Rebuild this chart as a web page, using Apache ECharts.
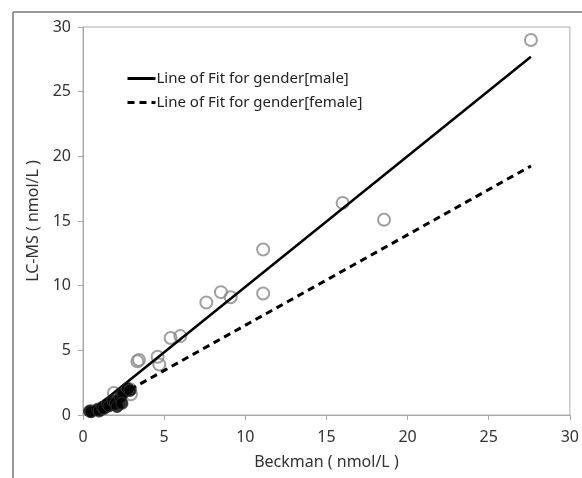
<!DOCTYPE html>
<html>
<head>
<meta charset="utf-8">
<script src="https://cdn.jsdelivr.net/npm/echarts@6/dist/echarts.min.js"></script>
<style>
  html, body { margin: 0; padding: 0; background: #fff; }
  #main { width: 582px; height: 478px; }
</style>
</head>
<body>
<div id="main"></div>
<script>
// male samples (open circles): [Beckman, LC-MS]
const maleX = [27.6, 16.0, 18.55, 11.1, 11.1, 7.6, 8.5, 9.1, 5.4, 6.0, 3.35, 3.45, 4.6, 4.7, 1.9, 2.9, 2.95, 1.4, 0.5];
const maleY = [29.0, 16.4, 15.1, 12.8, 9.4, 8.7, 9.5, 9.1, 5.95, 6.1, 4.15, 4.25, 4.5, 3.9, 1.7, 2.0, 1.6, 0.7, 0.3];
// female samples (filled circles)
const femaleX = [0.4, 0.5, 0.9, 1.0, 1.2, 1.3, 1.5, 1.6, 1.85, 2.0, 2.1, 2.3, 2.45, 2.4, 2.75, 2.9];
const femaleY = [0.3, 0.25, 0.45, 0.3, 0.6, 0.5, 0.85, 0.7, 1.1, 0.9, 0.65, 1.4, 1.65, 0.9, 2.05, 1.9];
// fit line end points
const fitX = [0.3, 27.6];
const maleFitY = [0.1, 27.7];
const femaleFitY = [0.15, 19.25];
const axisTicks = [0, 5, 10, 15, 20, 25, 30];

const zip = (xs, ys) => xs.map((x, i) => [x, ys[i]]);

var chart = echarts.init(document.getElementById('main'));

const font = 'Noto Sans';
const axisCommon = {
  type: 'value',
  min: axisTicks[0],
  max: axisTicks[axisTicks.length - 1],
  interval: 5,
  nameLocation: 'middle',
  nameTextStyle: { fontFamily: font, fontSize: 16, color: '#333' },
  axisLine: { show: true, lineStyle: { color: '#aaa', width: 1 } },
  axisTick: { show: true, inside: false, length: 5, lineStyle: { color: '#aaa' } },
  axisLabel: { fontFamily: font, fontSize: 16, color: '#333', margin: 12 },
  splitLine: { show: false }
};

var option = {
  animation: false,
  backgroundColor: '#fff',
  grid: {
    left: 83, right: 12, top: 27, bottom: 63,
    show: true, borderColor: '#aaa', borderWidth: 1
  },
  graphic: [
    { type: 'line', shape: { x1: 13, y1: 12, x2: 582, y2: 12 }, style: { stroke: '#777', lineWidth: 1.5 } },
    { type: 'line', shape: { x1: 13, y1: 12, x2: 13, y2: 478 }, style: { stroke: '#777', lineWidth: 1.5 } }
  ],
  legend: {
    data: ['Line of Fit for gender[male]', 'Line of Fit for gender[female]'],
    orient: 'vertical',
    left: 121,
    top: 66,
    itemWidth: 28,
    itemHeight: 14,
    itemGap: 9,
    itemStyle: { opacity: 0 },
    lineStyle: { width: 3 },
    textStyle: { fontFamily: font, fontSize: 15, color: '#222', padding: [0, 0, 0, -4] }
  },
  xAxis: Object.assign({}, axisCommon, {
    name: 'Beckman ( nmol/L )', nameGap: 39,
    axisLabel: Object.assign({}, axisCommon.axisLabel, { margin: 14 })
  }),
  yAxis: Object.assign({}, axisCommon, { name: 'LC-MS ( nmol/L )', nameGap: 40 }),
  series: [
    {
      name: 'Line of Fit for gender[male]',
      type: 'line',
      data: zip(fitX, maleFitY),
      symbol: 'none',
      color: '#000',
      lineStyle: { color: '#000', width: 2.5, type: 'solid' },
      z: 3
    },
    {
      name: 'Line of Fit for gender[female]',
      type: 'line',
      data: zip(fitX, femaleFitY),
      symbol: 'none',
      color: '#000',
      lineStyle: { color: '#000', width: 3, type: [7, 5] },
      z: 3
    },
    {
      name: 'male',
      type: 'scatter',
      data: zip(maleX, maleY),
      symbol: 'circle',
      symbolSize: 12,
      itemStyle: { color: 'rgba(255,255,255,0)', borderColor: '#888', borderWidth: 2 },
      z: 2
    },
    {
      name: 'female',
      type: 'scatter',
      data: zip(femaleX, femaleY),
      symbol: 'circle',
      symbolSize: 12,
      itemStyle: { color: '#000', borderColor: '#333', borderWidth: 1 },
      z: 4
    }
  ]
};

option && chart.setOption(option);
</script>
</body>
</html>
